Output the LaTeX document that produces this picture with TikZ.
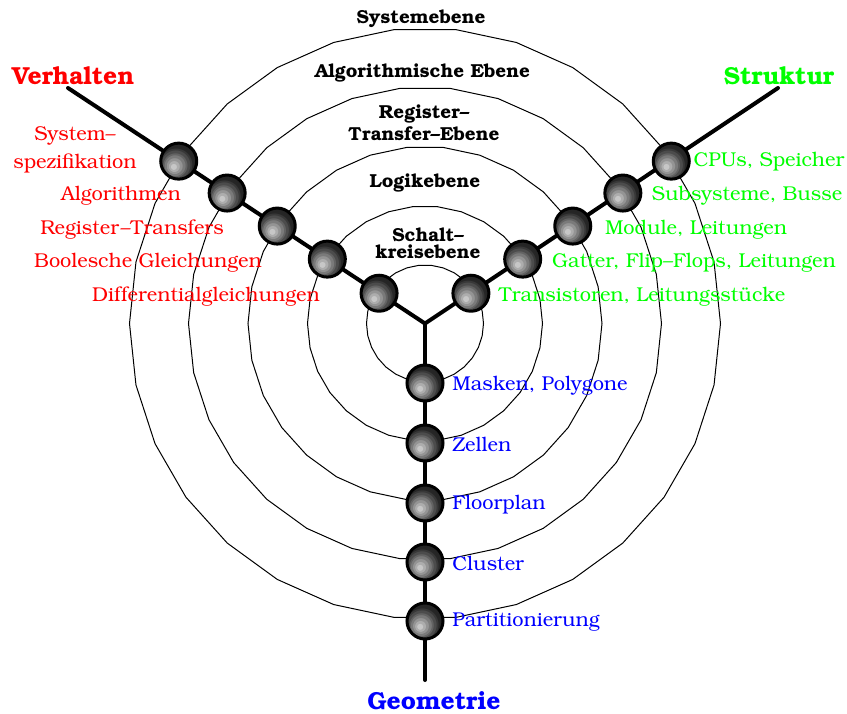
\documentclass[tikz,border=0pt]{standalone}
\usepackage[T1]{fontenc}
\usepackage{bookman}
\usepackage{xcolor}

% stepped radial shading: rings around a highlight at the lower left
% (the ball edge sits at 25bp)
\pgfdeclareradialshading{ballrings}{\pgfpoint{-8bp}{-8bp}}{%
  color(0bp)=(black!22); color(4.5bp)=(black!22);
  color(4.5bp)=(black!32); color(8bp)=(black!32);
  color(8bp)=(black!42); color(11bp)=(black!42);
  color(11bp)=(black!52); color(14bp)=(black!52);
  color(14bp)=(black!61); color(17bp)=(black!61);
  color(17bp)=(black!70); color(20bp)=(black!70);
  color(20bp)=(black!78); color(23bp)=(black!78);
  color(23bp)=(black!85); color(50bp)=(black!90)}

\tikzset{
  axis line/.style={line width=2pt, line cap=round},
  level ring/.style={line width=0.5pt},
  ball/.style={circle, draw=black, line width=1.5pt, minimum size=18pt,
    inner sep=0pt, shading=ballrings},
  lbl/.style={font=\fontsize{10}{12}\selectfont, inner sep=0pt, align=center},
  lvl/.style={lbl, font=\fontsize{9.4}{11}\selectfont\bfseries},
  ttl/.style={lbl, font=\fontsize{12.3}{14}\selectfont\bfseries},
  behlbl/.style={lbl, text=red},
  strlbl/.style={lbl, text=green},
  geolbl/.style={lbl, text=blue, anchor=west},
}

\begin{document}
\begin{tikzpicture}[x=0.5pt, y=-0.5pt]
\useasboundingbox (0,0) rectangle (847,713);

\coordinate (C) at (425,323.5);
\coordinate (vEnd) at (68,88);
\coordinate (sEnd) at (778,88);
\coordinate (gEnd) at (425,680);

% abstraction levels
\begin{scope}[shift={(C)}]
  \foreach \r in {58.5,117.5,177,236.5,295.5}
    \draw[level ring] (0:\r) \foreach \a in {12,24,...,348}{ -- (\a:\r)} -- cycle;
\end{scope}

% the three axes
\draw[axis line] (C) -- (vEnd);
\draw[axis line] (C) -- (sEnd);
\draw[axis line] (C) -- (gEnd);

% balls on the axes
\begin{scope}[shift={(C)}]
  \foreach \r [count=\i] in {55,117,177,237,295}{
    \node[ball] (v\i) at (213.4:\r) {};
    \node[ball] (s\i) at (-33.4:\r) {};
  }
  \foreach \r [count=\i] in {59.5,119.5,179.5,238.5,297.5}
    \node[ball] (g\i) at (90:\r) {};
\end{scope}

% axis titles
\node[ttl, text=red] (tV) at (73,76) {Verhalten};
\node[ttl, text=green] (tS) at (779,76) {Struktur};
\node[ttl, text=blue] (tG) at (434,701) {Geometrie};

% level names
\node[lvl] (l5) at (421,19) {Systemebene};
\node[lvl] (l4) at (422.5,73) {Algorithmische Ebene};
\node[lvl, font=\fontsize{9.4}{11}\selectfont\bfseries] (l3) at (424,123)
  {Register--\\Transfer--Ebene};
\node[lvl] (l2) at (425,183) {Logikebene};
\node[lvl, font=\fontsize{9.4}{8.4}\selectfont\bfseries] (l1) at (428,243)
  {Schalt--\\kreisebene};

% behaviour
\node[behlbl, font=\fontsize{10}{14}\selectfont] (b5) at (75,150) {System--\\spezifikation};
\node[behlbl] (b4) at (121,196) {Algorithmen};
\node[behlbl] (b3) at (132,230) {Register--Transfers};
\node[behlbl] (b2) at (148,263) {Boolesche Gleichungen};
\node[behlbl] (b1) at (206,297) {Differentialgleichungen};

% structure
\node[strlbl] (r5) at (769,162) {CPUs, Speicher};
\node[strlbl] (r4) at (747,196) {Subsysteme, Busse};
\node[strlbl] (r3) at (696,230) {Module, Leitungen};
\node[strlbl] (r2) at (694,263) {Gatter, Flip--Flops, Leitungen};
\node[strlbl] (r1) at (642,297) {Transistoren, Leitungsst\"ucke};

% geometry
\node[geolbl] (q1) at (452,386) {Masken, Polygone};
\node[geolbl] (q2) at (452,445) {Zellen};
\node[geolbl] (q3) at (452,505) {Floorplan};
\node[geolbl] (q4) at (452,564) {Cluster};
\node[geolbl] (q5) at (452,622) {Partitionierung};
\end{tikzpicture}
\end{document}
